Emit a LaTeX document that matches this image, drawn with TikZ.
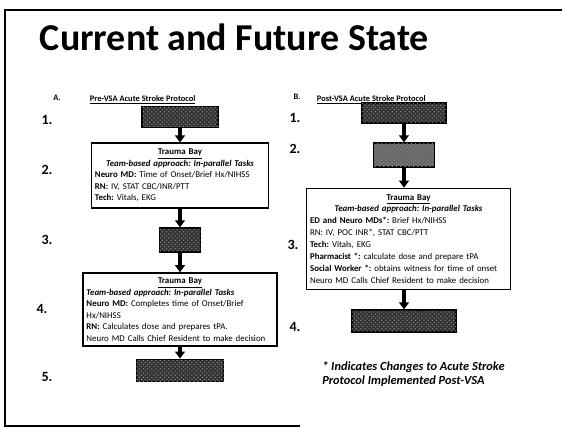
\documentclass[tikz,border=0pt]{standalone}
\usepackage{fontspec}
\setmainfont{Carlito}
\usetikzlibrary{arrows.meta, patterns}
\frenchspacing

\begin{document}
\begin{tikzpicture}[x=0.025cm, y=-0.025cm,
  >={Triangle[width=7pt,length=5pt]},
  darkbox/.style={draw=black, line width=1pt, fill=black!80, inner sep=0pt,
    postaction={pattern=crosshatch dots, pattern color=black!45}},
  baybox/.style={draw=black, line width=1pt, fill=white, inner xsep=2.5pt, inner ysep=2pt,
    align=left, font=\fontsize{6.3}{8.2}\selectfont},
  numlabel/.style={font=\fontsize{10}{12}\selectfont\bfseries},
  colhead/.style={font=\fontsize{6}{7}\selectfont\bfseries},
  flow/.style={->, line width=2.2pt}]
  \useasboundingbox (0,0) rectangle (562,428);
  % slide frame
  \draw[line width=1.5pt] (562,10) -- (5,10) -- (5,426) -- (300,426);
  \node[anchor=base west, font=\fontsize{27}{30}\selectfont\bfseries] (title) at (35,50) {Current and Future State};

  % A. pre-VSA
  \node[colhead] (ha) at (57,98) {A.};
  \node[colhead, anchor=west] (hatext) at (85,100) {\underline{Pre-VSA Acute Stroke Protocol}};
  \node[numlabel] (n1) at (47,120) {1.};
  \node[numlabel] (n2) at (47,170) {2.};
  \node[numlabel] (n3) at (47,240) {3.};
  \node[numlabel] (n4) at (42,309) {4.};
  \node[numlabel] (n5) at (47,377) {5.};
  \node[darkbox, minimum width=54pt, minimum height=15pt] (l1) at (180,117) {};
  \node[baybox, text width=121pt, minimum height=46pt] (l2) at (180,175.5) {%
    {\centering\textbf{\underline{Trauma Bay}}\\\textbf{\textit{Team-based approach: In-parallel Tasks}}\par}
    \textbf{Neuro MD:} Time of Onset/Brief Hx/NIHSS\\
    \textbf{RN:} IV, STAT CBC/INR/PTT\\
    \textbf{Tech:} Vitals, EKG};
  \node[darkbox, minimum width=29pt, minimum height=17pt] (l3) at (180,240) {};
  \node[baybox, text width=133pt, minimum height=52pt] (l4) at (180,309.5) {%
    {\centering\textbf{\underline{Trauma Bay}}\par}
    \textbf{\textit{Team-based approach: In-parallel Tasks}}\\
    \textbf{Neuro MD:} Completes time of Onset/Brief\\
    Hx/NIHSS\\
    \textbf{RN:} Calculates dose and prepares tPA.\\
    Neuro MD Calls Chief Resident to make decision};
  \node[darkbox, minimum width=62pt, minimum height=16pt] (l5) at (180,370.5) {};
  \draw[flow] (l1) -- (l2);
  \draw[flow] (l2) -- (l3);
  \draw[flow] (l3) -- (l4);
  \draw[flow] (l4) -- (l5);

  % B. post-VSA
  \node[colhead] (hb) at (297,97) {B.};
  \node[colhead, anchor=west] (hbtext) at (312,100) {\underline{Post-VSA Acute Stroke Protocol}};
  \node[numlabel] (m1) at (295,118) {1.};
  \node[numlabel] (m2) at (295,149) {2.};
  \node[numlabel] (m3) at (293,245) {3.};
  \node[numlabel] (m4) at (295,327) {4.};
  \node[darkbox, minimum width=60pt, minimum height=14pt] (r1) at (404,113) {};
  \node[darkbox, fill=black!60, minimum width=43pt, minimum height=17pt] (r2) at (404,155) {};
  \node[baybox, text width=140pt, minimum height=72pt, font=\fontsize{6.3}{8.5}\selectfont] (r3) at (408.5,239) {%
    {\centering\textbf{\underline{Trauma Bay}}\\\textbf{\textit{Team-based approach: In-parallel Tasks}}\par}
    \textbf{ED and Neuro MDs*:} Brief Hx/NIHSS\\
    RN: IV, POC INR*, STAT CBC/PTT\\
    \textbf{Tech:} Vitals, EKG\\
    \textbf{Pharmacist *:} calculate dose and prepare tPA\\
    \textbf{Social Worker *:} obtains witness for time of onset\\
    Neuro MD Calls Chief Resident to make decision};
  \node[darkbox, minimum width=74pt, minimum height=15.6pt] (r4) at (404,321) {};
  \draw[flow] (r1) -- (r2);
  \draw[flow] (r2) -- (r2 |- r3.north);
  \draw[flow] (r3.south -| r4) -- (r4);
  \node[anchor=north west, align=left, inner sep=0pt, font=\fontsize{8.8}{10}\selectfont\bfseries\itshape] (note) at (322,361)
    {* Indicates Changes to Acute Stroke\\Protocol Implemented Post-VSA};
\end{tikzpicture}
\end{document}
